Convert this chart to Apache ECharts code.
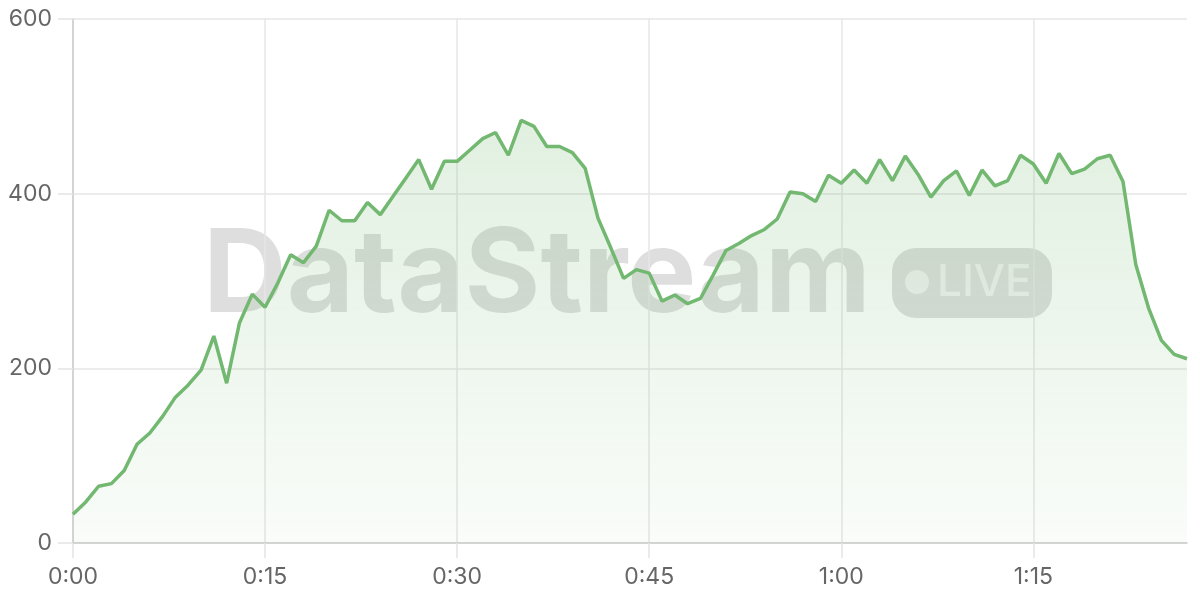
<!DOCTYPE html>
<html>
<head>
<meta charset="utf-8">
<script src="https://cdn.jsdelivr.net/npm/echarts@6/dist/echarts.min.js"></script>
<style>
html,body{margin:0;padding:0;background:#fff;}
#chart{width:1200px;height:600px;}
</style>
</head>
<body>
<div id="chart"></div>
<script>
// minutes 0..87
const minutes = Array.from({length: 88}, (_, i) => i);
const categories = minutes.map(m => Math.floor(m / 60) + ':' + String(m % 60).padStart(2, '0'));
const values = [
  33, 47, 65, 68, 83, 113, 126, 145, 167, 181,
  198, 237, 183, 252, 285, 270, 298, 330, 321, 340,
  381, 369, 369, 390, 376, 397, 418, 439, 405, 437,
  437, 450, 463, 470, 444, 484, 477, 454, 454, 447,
  429, 372, 338, 303, 313, 309, 277, 284, 274, 280,
  307, 335, 343, 352, 359, 371, 402, 400, 391, 421,
  412, 427, 412, 439, 415, 443, 422, 396, 415, 426,
  398, 427, 409, 415, 444, 434, 412, 446, 423, 428,
  440, 444, 414, 319, 269, 232, 216, 211
];
const yTicks = [0, 200, 400, 600];
const watermarkText = 'DataStream';
const badgeText = 'LIVE';

const chart = echarts.init(document.getElementById('chart'), null, {renderer: 'canvas'});
const labelFont = 'Inter, "Noto Sans", sans-serif';
chart.setOption({
  animation: false,
  grid: {left: 73, right: 13, top: 19, bottom: 57},
  xAxis: {
    type: 'category',
    data: categories,
    boundaryGap: false,
    axisLine: {show: true, lineStyle: {color: '#cccccc', width: 1.5}},
    axisTick: {show: true, interval: 14, length: 15, lineStyle: {color: '#e3e3e3', width: 1.5}},
    axisLabel: {interval: 14, color: '#666666', fontSize: 23, fontFamily: labelFont, margin: 23},
    splitLine: {show: true, interval: 14, lineStyle: {color: '#e6e6e6', width: 1.5}}
  },
  yAxis: {
    type: 'value',
    min: yTicks[0],
    max: yTicks[yTicks.length - 1],
    interval: 200,
    axisLine: {show: true, lineStyle: {color: '#cccccc', width: 1.5}},
    axisTick: {show: true, length: 15, lineStyle: {color: '#e3e3e3', width: 1.5}},
    axisLabel: {color: '#666666', fontSize: 23, fontFamily: labelFont, margin: 21},
    splitLine: {show: true, lineStyle: {color: '#e6e6e6', width: 1.5}}
  },
  graphic: [{
    type: 'group',
    x: 203,
    y: 219,
    z: 1,
    children: [
      {
        type: 'text',
        x: 0,
        y: 0,
        style: {
          text: watermarkText,
          font: '700 116px Inter, "Noto Sans", sans-serif',
          fill: 'rgba(0,0,0,0.13)'
        }
      },
      {
        type: 'rect',
        shape: {x: 689, y: 29, width: 160, height: 70, r: 24},
        style: {fill: 'rgba(0,0,0,0.13)'}
      },
      {
        type: 'circle',
        shape: {cx: 714, cy: 63, r: 12},
        style: {fill: 'rgba(255,255,255,0.55)'}
      },
      {
        type: 'text',
        x: 734,
        y: 64,
        style: {
          text: badgeText,
          font: '500 44px Inter, "Noto Sans", sans-serif',
          fill: 'rgba(255,255,255,0.55)',
          verticalAlign: 'middle',
          align: 'left'
        }
      }
    ]
  }],
  series: [{
    type: 'line',
    data: values,
    symbol: 'none',
    z: 3,
    lineStyle: {color: '#72b871', width: 3.5},
    areaStyle: {
      color: new echarts.graphic.LinearGradient(0, 0, 0, 1, [
        {offset: 0, color: 'rgba(114,184,113,0.3)'},
        {offset: 1, color: 'rgba(114,184,113,0.06)'}
      ])
    }
  }]
});
</script>
</body>
</html>
